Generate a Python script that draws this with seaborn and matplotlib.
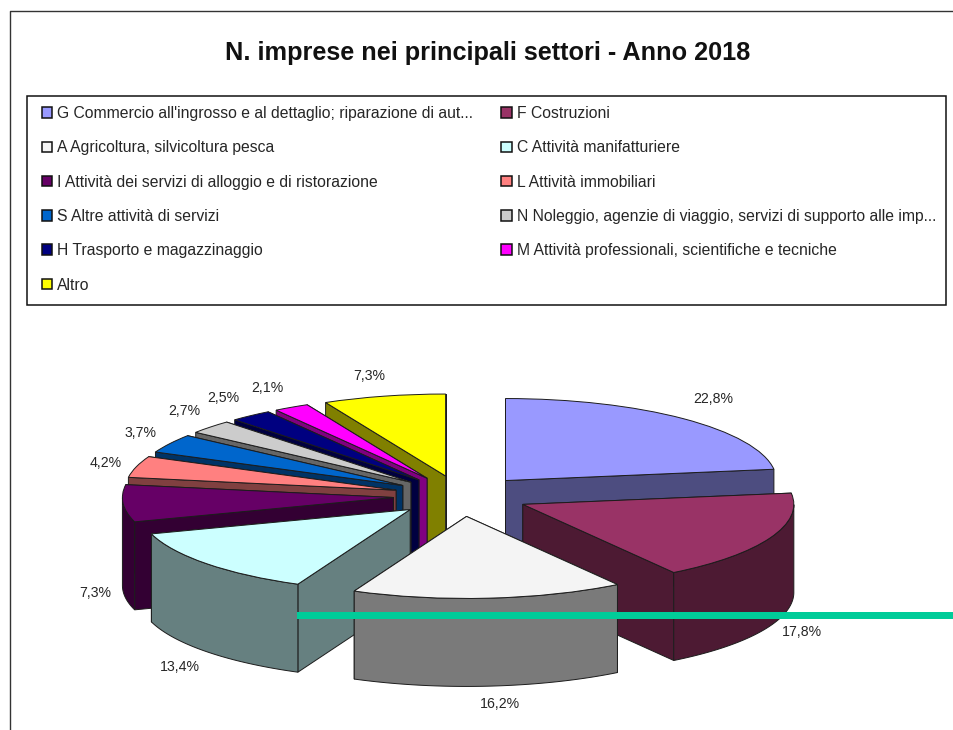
import numpy as np
import matplotlib
matplotlib.use("Agg")
import matplotlib.pyplot as plt
from matplotlib.lines import Line2D
from matplotlib.patches import Rectangle
from matplotlib.colors import to_rgb
import seaborn as sns

# ==========================================
# Data
# ==========================================

categories = [
    "G Commercio all'ingrosso e al dettaglio; riparazione di aut...",
    "F Costruzioni",
    "A Agricoltura, silvicoltura pesca",
    "C Attività manifatturiere",
    "I Attività dei servizi di alloggio e di ristorazione",
    "L Attività immobiliari",
    "S Altre attività di servizi",
    "N Noleggio, agenzie di viaggio, servizi di supporto alle imp...",
    "H Trasporto e magazzinaggio",
    "M Attività professionali, scientifiche e tecniche",
    "Altro",
]
shares = [22.8, 17.8, 16.2, 13.4, 7.3, 4.2, 3.7, 2.7, 2.5, 2.1, 7.3]
share_labels = ["22,8%", "17,8%", "16,2%", "13,4%", "7,3%", "4,2%",
                "3,7%", "2,7%", "2,5%", "2,1%", "7,3%"]
slice_colors = ["#9999FF", "#993366", "#F4F4F4", "#CCFFFF", "#660066", "#FF8080",
                "#0066CC", "#CCCCCC", "#000080", "#FF00FF", "#FFFF00"]

# ==========================================
# Layout (pixels of the 954x730 picture)
# ==========================================

W, H = 954, 730
cx, cy = 461, 496      # pie centre
rx, ry = 271, 82       # ellipse radii of the top face
depth = 88             # height of the walls
explode = 0.25
draw_order = [10, 0, 9, 8, 7, 6, 5, 4, 1, 3, 2]
label_pos = [(713, 399), (802, 632), (500, 704), (180, 667), (95, 593), (106, 463),
             (141, 433), (184, 411), (223, 398), (267, 388), (369, 376)]

sns.set_theme(style="white")
plt.rcParams["font.family"] = ["Liberation Sans", "DejaVu Sans"]
text_color = "#262626"
edge_color = "#1c1c1c"

fig = plt.figure(figsize=(W / 100, H / 100), dpi=100, facecolor="white")
ax = fig.add_axes([0, 0, 1, 1])

# ==========================================
# Pie
# ==========================================

palette = sns.color_palette(slice_colors)
wedges, _ = ax.pie(
    shares,
    colors=palette,
    explode=[explode] * len(shares),
    startangle=90,
    counterclock=False,
    radius=1,
    wedgeprops={"edgecolor": edge_color, "linewidth": 0.7},
)

# one data unit is rx pixels across and ry pixels down, this gives the tilted pie
ax.set_aspect("auto")
ax.set_xlim(-cx / rx, (W - cx) / rx)
ax.set_ylim((cy - H) / ry, cy / ry)
ax.axis("off")
h = depth / ry

for rank, i in enumerate(draw_order):
    w = wedges[i]
    x0, y0 = w.center
    shade = tuple(0.5 * c for c in to_rgb(slice_colors[i]))
    z = 3 + rank * 3

    # flat faces along the two cut edges, the lower one on top
    ends = sorted([w.theta1, w.theta2], key=lambda a: -np.sin(np.radians(a)))
    for a in ends:
        ex = x0 + np.cos(np.radians(a))
        ey = y0 + np.sin(np.radians(a))
        ax.fill([x0, ex, ex, x0], [y0, ey, ey - h, y0 - h], facecolor=shade,
                edgecolor=edge_color, linewidth=0.7, zorder=z)

    # outer wall, only the part facing the viewer
    t = np.radians(np.linspace(w.theta1, w.theta2, 120))
    t = t[np.sin(t) <= 0.001]
    if len(t) > 1:
        ox = x0 + np.cos(t)
        oy = y0 + np.sin(t)
        ax.fill(np.r_[ox, ox[::-1]], np.r_[oy, oy[::-1] - h], facecolor=shade,
                edgecolor=edge_color, linewidth=0.7, zorder=z + 1)
    w.set_zorder(z + 2)

for txt, (px, py) in zip(share_labels, label_pos):
    fig.text(px / W, 1 - py / H, txt, ha="center", va="center", fontsize=10.2, color=text_color)

# ==========================================
# Title, legend, frame
# ==========================================

fig.text(488 / W, 1 - 53 / H, "N. imprese nei principali settori - Anno 2018",
         ha="center", va="center", fontsize=18.2, fontweight="bold", color="#111111")

# legend box is drawn on its own so the text padding can differ from the box size
fig.add_artist(Rectangle((27 / W, 1 - 305 / H), 919 / W, 209 / H, transform=fig.transFigure,
                         facecolor="white", edgecolor="#111111", linewidth=1.1))

handles = wedges[0::2] + wedges[1::2]
labels = categories[0::2] + categories[1::2]
leg = fig.legend(
    handles, labels,
    ncol=2,
    loc="upper left",
    bbox_to_anchor=(42 / W, 1 - 106 / H),
    bbox_transform=fig.transFigure,
    borderaxespad=0,
    fontsize=11.3,
    labelcolor=text_color,
    handlelength=0.65,
    handleheight=0.65,
    handletextpad=0.32,
    columnspacing=1.8,
    labelspacing=1.23,
    borderpad=0,
    frameon=False,
)
leg.set_zorder(5)
for hd in leg.legend_handles:
    hd.set_edgecolor("#111111")
    hd.set_linewidth(1.1)

# outer picture border, open on the right and bottom
fig.add_artist(Line2D([10.5 / W, 10.5 / W, 1], [0, 1 - 10.5 / H, 1 - 10.5 / H],
                      color="#333333", linewidth=1.0))

# green stripe across the lower part of the picture
fig.add_artist(Rectangle((297 / W, 1 - 619 / H), (W - 297) / W, 7 / H,
                         transform=fig.transFigure, facecolor="#00CC99", edgecolor="none"))

plt.savefig("out.png", dpi=100)
